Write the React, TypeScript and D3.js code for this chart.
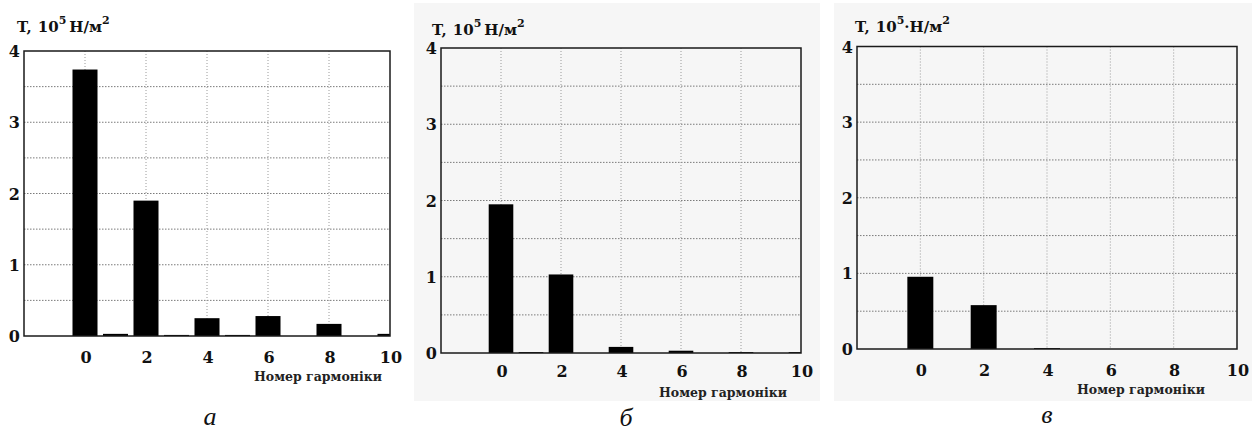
import React from "react";
import * as d3 from "d3";

const harmonics = [0, 1, 2, 3, 4, 5, 6, 7, 8, 9, 10];
const valuesA = [3.74, 0.03, 1.9, 0.015, 0.25, 0.015, 0.28, 0, 0.17, 0, 0.03];
const valuesB = [1.95, 0.012, 1.03, 0, 0.08, 0, 0.03, 0, 0.012, 0, 0.012];
const valuesC = [0.955, 0, 0.58, 0, 0.012, 0, 0, 0, 0, 0, 0];
const xTicks = [0, 2, 4, 6, 8, 10];
const yTicks = [0, 1, 2, 3, 4];
const yGrid = [0.5, 1, 1.5, 2, 2.5, 3, 3.5];
const xGrid = [0, 2, 4, 6, 8];
const xLabel = "Номер гармоніки";
const panelLetters = ["а", "б", "в"];
const unitSeparators = [" ", " ", "·"];

const panels = [
  { values: valuesA, left: 24, right: 390, top: 51, bottom: 336, tickY: 363, labelX: 318, labelY: 381, letterX: 210, letterY: 425, yLabX: 17, yLabY: 32, bg: null },
  { values: valuesB, left: 441, right: 801, top: 48, bottom: 353, tickY: 377, labelX: 723, labelY: 397, letterX: 626, letterY: 426, yLabX: 432, yLabY: 35, bg: [414, 3, 406, 398] },
  { values: valuesC, left: 857, right: 1237, top: 46.5, bottom: 349, tickY: 376, labelX: 1141, labelY: 394, letterX: 1047, letterY: 423, yLabX: 855, yLabY: 32, bg: [834, 3, 418, 398] },
];

const dejavu = { fontFamily: '"DejaVu Serif", "Liberation Serif", serif', fontWeight: "bold" as const };
const times = { fontFamily: '"Liberation Serif", "Times New Roman", serif', fontStyle: "italic" as const };

function Panel({ p, i }: { p: any; i: number }) {
  const x = d3.scaleLinear().domain([-2, 10]).range([p.left, p.right]);
  const y = d3.scaleLinear().domain([0, 4]).range([p.bottom, p.top]);
  const unit = x(1) - x(0);
  const bw = unit * 0.82;
  const clipId = `clip-${i}`;
  return (
    <g>
      {p.bg && <rect x={p.bg[0]} y={p.bg[1]} width={p.bg[2]} height={p.bg[3]} fill="#f6f6f6" />}
      <defs>
        <clipPath id={clipId}>
          <rect x={p.left} y={p.top} width={p.right - p.left} height={p.bottom - p.top} />
        </clipPath>
      </defs>
      {yGrid.map((v) => (
        <line key={"h" + v} x1={p.left} x2={p.right} y1={y(v)} y2={y(v)} stroke="#7a7a7a" strokeWidth={1} strokeDasharray="1.5,1.5" />
      ))}
      {xGrid.map((v) => (
        <line key={"v" + v} x1={x(v)} x2={x(v)} y1={p.top} y2={p.bottom} stroke="#9a9a9a" strokeWidth={1} strokeDasharray="1,2" />
      ))}
      <g clipPath={`url(#${clipId})`}>
        {harmonics.map((h, k) =>
          p.values[k] > 0 ? (
            <rect key={h} x={x(h) - bw / 2} y={y(p.values[k])} width={bw} height={y(0) - y(p.values[k])} fill="#000" />
          ) : null
        )}
      </g>
      <rect x={p.left} y={p.top} width={p.right - p.left} height={p.bottom - p.top} fill="none" stroke="#1a1a1a" strokeWidth={1.5} />
      {yTicks.map((v) => (
        <text key={"yt" + v} x={p.left - 4} y={y(v) + 6} textAnchor="end" style={{ ...dejavu, fontSize: 16 }} fill="#111">
          {v}
        </text>
      ))}
      {xTicks.map((v) => (
        <text key={"xt" + v} x={x(v) + 1} y={p.tickY} textAnchor="middle" style={{ ...dejavu, fontSize: 16 }} fill="#111">
          {v}
        </text>
      ))}
      <text x={p.labelX} y={p.labelY} textAnchor="middle" style={{ ...dejavu, fontSize: 12.5 }} fill="#222">
        {xLabel}
      </text>
      <text x={p.yLabX} y={p.yLabY} style={{ ...dejavu, fontSize: 15 }} fill="#111">
        <tspan>T,</tspan>
        <tspan dx={6}>10</tspan>
        <tspan dy={-8} style={{ fontSize: 11 }}>5</tspan>
        <tspan dy={8} dx={i === 2 ? 0 : 3}>{i === 2 ? unitSeparators[i] : ""}Н/м</tspan>
        <tspan dy={-8} style={{ fontSize: 11 }}>2</tspan>
      </text>
      <text x={p.letterX} y={p.letterY} textAnchor="middle" style={{ ...times, fontSize: 26 }} fill="#111">
        {panelLetters[i]}
      </text>
    </g>
  );
}

export default function App() {
  return (
    <svg width={1255} height={431} style={{ position: "absolute", left: 0, top: 0, background: "#fff" }}>
      {panels.map((p, i) => (
        <Panel key={i} p={p} i={i} />
      ))}
    </svg>
  );
}
